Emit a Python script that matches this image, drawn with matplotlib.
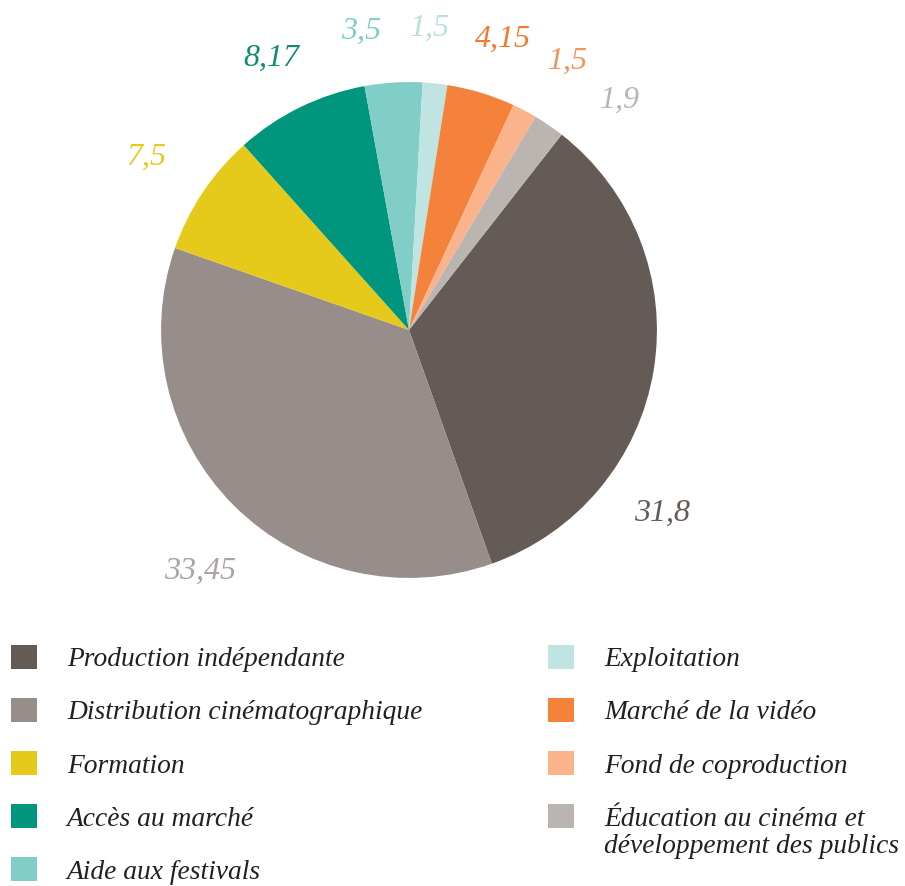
import numpy as np
import matplotlib
matplotlib.use("Agg")
import matplotlib.pyplot as plt

# Data
categories = [
    "Production indépendante",
    "Distribution cinématographique",
    "Formation",
    "Accès au marché",
    "Aide aux festivals",
    "Exploitation",
    "Marché de la vidéo",
    "Fond de coproduction",
    "Éducation au cinéma et\ndéveloppement des publics",
]
values = [31.8, 33.45, 7.5, 8.17, 3.5, 1.5, 4.15, 1.5, 1.9]
value_labels = ["31,8", "33,45", "7,5", "8,17", "3,5", "1,5", "4,15", "1,5", "1,9"]

slice_colors = ["#655b56", "#978d8a", "#e5ca1c", "#00967d", "#80cec7",
                "#bfe4e1", "#f4823b", "#fab38a", "#bbb5b2"]
label_colors = ["#655b56", "#aaa3a0", "#e5ca1c", "#0f8c76", "#80cec7",
                "#b8e0dc", "#f27a30", "#f5945a", "#bbb5b2"]

# label placement tweaks: (angle shift in degrees, radius)
label_nudge = [(-26.7, 1.26), (4.0, 1.29), (0.4, 1.27), (0.8, 1.23), (5.5, 1.22),
               (2.0, 1.22), (-1.0, 1.23), (-2.8, 1.26), (-8.2, 1.26)]

W, H = 905, 886
fig = plt.figure(figsize=(W / 100, H / 100), dpi=100)
fig.patch.set_facecolor("white")

ax = fig.add_axes([109 / W, 256 / H, 600 / W, 600 / H])
wedges, _ = ax.pie(values, colors=slice_colors, startangle=52, counterclock=False,
                   wedgeprops=dict(linewidth=0))
ax.set_xlim(-1.21, 1.21)
ax.set_ylim(-1.21, 1.21)
ax.set_aspect("equal")
ax.axis("off")

font = dict(family="Liberation Serif", style="italic")

for w, txt, col, (shift, r) in zip(wedges, value_labels, label_colors, label_nudge):
    ang = np.deg2rad((w.theta1 + w.theta2) / 2 + shift)
    ax.text(r * np.cos(ang), r * np.sin(ang), txt, color=col, fontsize=23,
            ha="center", va="center", clip_on=False, **font)

# Legend in two columns (second line of the last entry added below it)
first_lines = [c.split("\n")[0] for c in categories]
leg_size = 19.8
leg_kw = dict(frameon=False, prop=dict(size=leg_size, **font), handlelength=0.945,
              handleheight=0.945, handletextpad=1.09, labelspacing=0.94,
              borderaxespad=0, borderpad=0)
leg1 = fig.legend(wedges[:5], first_lines[:5], loc="upper left",
                  bbox_to_anchor=(11 / W, 1 - 645 / H), **leg_kw)
leg2 = fig.legend(wedges[5:], first_lines[5:], loc="upper left",
                  bbox_to_anchor=(548 / W, 1 - 645 / H), **leg_kw)
for leg in (leg1, leg2):
    for t in leg.get_texts():
        t.set_color("#231f20")

fig.canvas.draw()
bb = leg2.get_texts()[-1].get_window_extent()
fig.text(bb.x0 / W, (bb.y0 - 2) / H, categories[-1].split("\n")[1],
         va="top", ha="left", fontsize=leg_size, color="#231f20", **font)

fig.savefig("out.png", dpi=100, facecolor="white")
